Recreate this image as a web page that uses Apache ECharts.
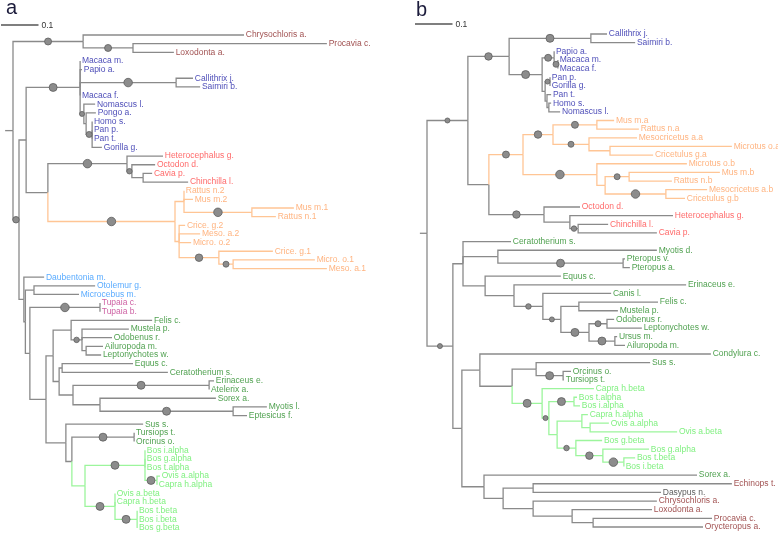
<!DOCTYPE html>
<html><head><meta charset="utf-8">
<script src="https://cdn.jsdelivr.net/npm/echarts@6/dist/echarts.min.js"></script>
<style>html,body{margin:0;padding:0;background:#fff}#c{width:778px;height:534px}</style>
</head><body><div id="c"></div>
<script>
// ---------- Colours ----------
const GREY = '#8a8a8a';
const MAROON = '#861f1f', BLUE = '#2020a6', RED = '#ff4545', ORANGE = '#ffa060', ORANGE_LINE = '#ffc595',
      LBLUE = '#2f96ff', MAGENTA = '#c03a8c', GREEN = '#248a24', LGREEN = '#62ec62', LGREEN_LINE = '#9cf59c', DARK = '#333333';

// ---------- Tree a : [node, parent, distance from root] ----------
const aBackbone = [['AFRO','rootA',0.187],['BOREO','rootA',0.016],['EUAR','BOREO',0.035],['P','BOREO',0.029],['P2','P',0.033],['Q','P2',0.045],['LAU','Q',0.088]];
const aAfro = [['Chrysochloris a.','AFRO',0.616],['PL','AFRO',0.320],['Procavia c.','PL',0.837],['Loxodonta a.','PL',0.429]];
const aPrimates = [['ANTH','EUAR',0.179],['Macaca m.','ANTH',0.179],['Papio a.','ANTH',0.184],['CS','ANTH',0.435],['Callithrix j.','CS',0.480],['Saimiri b.','CS',0.499],['Macaca f.','ANTH',0.179],['APE','ANTH',0.189],['Nomascus l.','APE',0.219],['PH','APE',0.195],['Pongo a.','PH',0.221],['HPG','PH',0.211],['Homo s.','HPG',0.211],['Pan p.','HPG',0.211],['Pan t.','HPG',0.211],['Gorilla g.','HPG',0.237]];
const aRodents = [['ROD','EUAR',0.093],['HYS','ROD',0.304],['Heterocephalus g.','HYS',0.400],['OCC','HYS',0.317],['Octodon d.','OCC',0.379],['CC','OCC',0.347],['Cavia p.','CC',0.371],['Chinchilla l.','CC',0.467],
 ['MUR','ROD',0.432],['MU','MUR',0.456],['Rattus n.2','MU',0.456],['Mus m.2','MU',0.480],['MR1','MU',0.637],['Mus m.1','MR1',0.749],['Rattus n.1','MR1',0.701],
 ['ML','MUR',0.443],['Crice. g.2','ML',0.459],['Meso. a.2','ML',0.499],['Micro. o.2','ML',0.475],['C1','ML',0.549],['Crice. g.1','C1',0.693],['MM1','C1',0.587],['Micro. o.1','MM1',0.805],['Meso. a.1','MM1',0.837]];
const aStrepTup = [['Daubentonia m.','P',0.083],['OM','P2',0.056],['Otolemur g.','OM',0.219],['Microcebus m.','OM',0.176],['TUP','Q',0.232],['Tupaia c.','TUP',0.232],['Tupaia b.','TUP',0.232]];
const aLaur = [['LA1','LAU',0.107],['CAR','LA1',0.155],['Felis c.','CAR',0.371],['CAN','CAR',0.184],['Mustela p.','CAN',0.309],['Odobenus r.','CAN',0.264],['AL','CAN',0.195],['Ailuropoda m.','AL',0.240],['Leptonychotes w.','AL',0.235],
 ['LA2','LA1',0.123],['EC','LA2',0.131],['Equus c.','EC',0.320],['Ceratotherium s.','EC',0.413],['LA3','LA2',0.160],['ER','LA3',0.523],['Erinaceus e.','ER',0.536],['Atelerix a.','ER',0.523],['SB','LA3',0.232],['Sorex a.','SB',0.541],['BAT','SB',0.587],['Myotis l.','BAT',0.677],['Eptesicus f.','BAT',0.624],
 ['CET','LAU',0.141],['Sus s.','CET',0.347],['CE2','CET',0.157],['TO','CE2',0.323],['Tursiops t.','TO',0.323],['Orcinus o.','TO',0.323]];
const aBovids = [['BOV','CE2',0.192],['ALP','BOV',0.352],['Bos i.alpha','ALP',0.352],['Bos g.alpha','ALP',0.352],['Bos t.alpha','ALP',0.352],['OCA','ALP',0.384],['Ovis a.alpha','OCA',0.392],['Capra h.alpha','OCA',0.384],
 ['BET','BOV',0.272],['Ovis a.beta','BET',0.272],['Capra h.beta','BET',0.272],['BB','BET',0.331],['Bos t.beta','BB',0.331],['Bos i.beta','BB',0.331],['Bos g.beta','BB',0.331]];
const aLeaves = ['Chrysochloris a.','Procavia c.','Loxodonta a.','Macaca m.','Papio a.','Callithrix j.','Saimiri b.','Macaca f.','Nomascus l.','Pongo a.','Homo s.','Pan p.','Pan t.','Gorilla g.',
 'Heterocephalus g.','Octodon d.','Cavia p.','Chinchilla l.','Rattus n.2','Mus m.2','Mus m.1','Rattus n.1','Crice. g.2','Meso. a.2','Micro. o.2','Crice. g.1','Micro. o.1','Meso. a.1',
 'Daubentonia m.','Otolemur g.','Microcebus m.','Tupaia c.','Tupaia b.','Felis c.','Mustela p.','Odobenus r.','Ailuropoda m.','Leptonychotes w.','Equus c.','Ceratotherium s.','Erinaceus e.','Atelerix a.','Sorex a.','Myotis l.','Eptesicus f.',
 'Sus s.','Tursiops t.','Orcinus o.','Bos i.alpha','Bos g.alpha','Bos t.alpha','Ovis a.alpha','Capra h.alpha','Ovis a.beta','Capra h.beta','Bos t.beta','Bos i.beta','Bos g.beta'];
const aSupport = [['AFRO',7],['PL',7],['BOREO',6.5],['ANTH',8],['CS',8.5],['APE',5],['HPG',6],['HYS',8.5],['OCC',5.5],['MUR',8.5],['MR1',8.5],['C1',7.5],['MM1',6],
 ['TUP',8.5],['CAN',5.5],['ER',8],['BAT',8],['TO',8],['ALP',8],['OCA',8],['BET',8],['BB',8]];
const aLabelClades = [['AFRO',MAROON],['ANTH',BLUE],['HYS',RED],['MUR',ORANGE],['Daubentonia m.',LBLUE],['OM',LBLUE],['TUP',MAGENTA],['LAU',GREEN],['BOV',LGREEN]];
const aEdgeClades = [['MUR',ORANGE_LINE],['BOV',LGREEN_LINE]];
const aRootEdge = 0.021;

// ---------- Tree b ----------
const bBackbone = [['E','rootB',0.109],['L','rootB',0.069]];
const bPrimates = [['PR','E',0.219],['CS','PR',0.437],['Callithrix j.','CS',0.480],['Saimiri b.','CS',0.555],['CT','PR',0.307],['OWM','CT',0.339],['Papio a.','OWM',0.339],['MM','OWM',0.349],['Macaca m.','MM',0.349],['Macaca f.','MM',0.349],
 ['APE','CT',0.315],['PG','APE',0.328],['Pan p.','PG',0.328],['Gorilla g.','PG',0.328],['Z','APE',0.320],['Pan t.','Z',0.331],['HN','Z',0.325],['Homo s.','HN',0.331],['Nomascus l.','HN',0.355]];
const bRodents = [['RO','E',0.165],['MURb','RO',0.256],['MA','MURb',0.336],['MRa','MA',0.453],['Mus m.a','MRa',0.499],['Rattus n.a','MRa',0.565],['MCa','MA',0.432],['Mesocricetus a.a','MCa',0.560],['MiCr','MCa',0.488],['Microtus o.a','MiCr',0.813],['Cricetulus g.a','MiCr',0.603],
 ['MB','MURb',0.453],['Microtus o.b','MB',0.693],['MB2','MB',0.475],['MRb','MB2',0.539],['Mus m.b','MRb',0.781],['Rattus n.b','MRb',0.653],['MCb','MB2',0.637],['Mesocricetus a.b','MCb',0.747],['Cricetulus g.b','MCb',0.688],
 ['HYSb','RO',0.312],['Octodon d.','HYSb',0.408],['CCH','HYSb',0.381],['Heterocephalus g.','CCH',0.656],['CC','CCH',0.403],['Chinchilla l.','CC',0.483],['Cavia p.','CC',0.613]];
const bLaur = [['L1','L',0.096],['Ceratotherium s.','L1',0.224],['CB','L1',0.189],['Myotis d.','CB',0.613],['PT','CB',0.523],['Pteropus v.','PT',0.528],['Pteropus a.','PT',0.541],
 ['FE','L1',0.155],['Equus c.','FE',0.357],['ECa','FE',0.232],['Erinaceus e.','ECa',0.691],['CAR','ECa',0.309],['Canis l.','CAR',0.491],['CA2','CAR',0.357],['FM','CA2',0.405],['Felis c.','FM',0.616],['Mustela p.','FM',0.509],
 ['ARC','CA2',0.432],['OL','ARC',0.480],['Odobenus r.','OL',0.499],['Leptonychotes w.','OL',0.573],['UA','ARC',0.501],['Ursus m.','UA',0.507],['Ailuropoda m.','UA',0.528],
 ['L2','L',0.093],['CS2','L2',0.141],['Condylura c.','CS2',0.757],['CET','CS2',0.227],['SO','CET',0.291],['Sus s.','SO',0.595],['TO','SO',0.363],['Orcinus o.','TO',0.384],['Tursiops t.','TO',0.365]];
const bBovids = [['BOVb','CET',0.307],['Capra h.beta','BOVb',0.445],['B2','BOVb',0.325],['BTI','B2',0.392],['Bos t.alpha','BTI',0.400],['Bos i.alpha','BTI',0.408],['B3','B2',0.347],['COC','B3',0.413],['Capra h.alpha','COC',0.429],['OO','COC',0.435],['Ovis a.alpha','OO',0.485],['Ovis a.beta','OO',0.667],
 ['B4','B3',0.397],['Bos g.beta','B4',0.467],['B5','B4',0.469],['Bos g.alpha','B5',0.592],['BTI2','B5',0.525],['Bos t.beta','BTI2',0.555],['Bos i.beta','BTI2',0.525]];
const bAfro = [['AF','L2',0.152],['Sorex a.','AF',0.720],['X1','AF',0.203],['ED','X1',0.283],['Echinops t.','ED',0.813],['Dasypus n.','ED',0.624],['AF2','X1',0.283],['Chrysochloris a.','AF2',0.613],['PLO','AF2',0.387],['Loxodonta a.','PLO',0.600],['PO','PLO',0.443],['Procavia c.','PO',0.760],['Orycteropus a.','PO',0.736]];
const bLeaves = ['Callithrix j.','Saimiri b.','Papio a.','Macaca m.','Macaca f.','Pan p.','Gorilla g.','Pan t.','Homo s.','Nomascus l.',
 'Mus m.a','Rattus n.a','Mesocricetus a.a','Microtus o.a','Cricetulus g.a','Microtus o.b','Mus m.b','Rattus n.b','Mesocricetus a.b','Cricetulus g.b',
 'Octodon d.','Heterocephalus g.','Chinchilla l.','Cavia p.','Ceratotherium s.','Myotis d.','Pteropus v.','Pteropus a.','Equus c.','Erinaceus e.','Canis l.','Felis c.','Mustela p.','Odobenus r.','Leptonychotes w.','Ursus m.','Ailuropoda m.',
 'Condylura c.','Sus s.','Orcinus o.','Tursiops t.','Capra h.beta','Bos t.alpha','Bos i.alpha','Capra h.alpha','Ovis a.alpha','Ovis a.beta','Bos g.beta','Bos g.alpha','Bos t.beta','Bos i.beta',
 'Sorex a.','Echinops t.','Dasypus n.','Chrysochloris a.','Loxodonta a.','Procavia c.','Orycteropus a.'];
const bSupport = [['E',5],['PR',7.5],['CS',8],['CT',8],['OWM',7],['MM',6],['PG',5],['MURb',7],['MA',7.5],['MRa',7],['MCa',6],['MB',8.5],['MRb',6],['MCb',8.5],['HYSb',7.5],['CC',5.5],
 ['L',5],['PT',8],['CAR',5.5],['CA2',5],['ARC',8],['OL',6],['UA',8],['TO',8],['BOVb',8],['B2',5],['BTI',8],['B4',5.5],['B5',7.5],['BTI2',8.5]];
const bLabelClades = [['PR',BLUE],['MURb',ORANGE],['HYSb',RED],['L',GREEN],['BOVb',LGREEN],['Echinops t.',MAROON],['AF2',MAROON],['Dasypus n.',DARK]];
const bEdgeClades = [['MURb',ORANGE_LINE],['BOVb',LGREEN_LINE]];
const bRootEdge = 0.019;

const SCALE_LEN = 0.1;
const FONT = '"Liberation Sans", Arial, sans-serif';

// ---------- Build ----------
function build(edges, leaves, root) {
  const nodes = {};
  nodes[root] = {name: root, x: 0, parent: null, children: []};
  edges.forEach(e => { nodes[e[0]] = {name: e[0], x: e[2], parent: e[1], children: []}; });
  edges.forEach(e => nodes[e[1]].children.push(nodes[e[0]]));
  leaves.forEach((n, i) => { nodes[n].y = i; });
  (function setY(nd) {
    if (!nd.children.length) return nd.y;
    const ys = nd.children.map(setY);
    nd.y = (Math.min(...ys) + Math.max(...ys)) / 2;
    return nd.y;
  })(nodes[root]);
  return nodes;
}
function subtree(nodes, name, out) {
  out.push(name);
  nodes[name].children.forEach(c => subtree(nodes, c.name, out));
  return out;
}
function cladeMap(nodes, list) {
  const m = {};
  list.forEach(([c, col]) => subtree(nodes, c, []).forEach(n => { m[n] = col; }));
  return m;
}

function treeSeries(edges, leaves, root, rootEdge, support, labelClades, edgeClades, gi) {
  const nodes = build(edges, leaves, root);
  const eCol = cladeMap(nodes, edgeClades);
  const lCol = cladeMap(nodes, labelClades);
  const r = nodes[root];
  const grey = [{value: [-rootEdge, r.y, 0, r.y], itemStyle: {color: GREY}}];
  const coloured = [];
  Object.values(nodes).forEach(nd => {
    if (nd.parent === null) return;
    const p = nodes[nd.parent];
    const item = {value: [p.x, p.y, nd.x, nd.y], itemStyle: {color: eCol[nd.name] || GREY}};
    (eCol[nd.name] ? coloured : grey).push(item);
  });
  const circles = support.map(([n, d]) => {
    const nd = nodes[n], p = nodes[nd.parent];
    return [(p.x + nd.x) / 2, nd.y, d];
  });
  const labels = leaves.map(n => ({name: n, value: [nodes[n].x, nodes[n].y], label: {color: lCol[n] || DARK}}));
  return [
    {type: 'custom', coordinateSystem: 'cartesian2d', xAxisIndex: gi, yAxisIndex: gi, silent: true,
     encode: {x: [0, 2], y: [1, 3]}, data: grey.concat(coloured), z: 2,
     renderItem: (params, api) => {
       const a = api.coord([api.value(0), api.value(1)]);
       const b = api.coord([api.value(0), api.value(3)]);
       const c = api.coord([api.value(2), api.value(3)]);
       return {type: 'polyline', shape: {points: [a, b, c]}, style: {stroke: api.visual('color'), lineWidth: 1.3, fill: null}};
     }},
    {type: 'scatter', xAxisIndex: gi, yAxisIndex: gi, silent: true, z: 4, data: circles,
     symbolSize: v => v[2], itemStyle: {color: '#8c8c8c', borderColor: '#5e5e5e', borderWidth: 0.8, opacity: 1}},
    {type: 'scatter', xAxisIndex: gi, yAxisIndex: gi, silent: true, z: 5, data: labels, symbolSize: 0.5,
     itemStyle: {color: 'rgba(0,0,0,0)'},
     label: {show: true, position: 'right', distance: 1.5, formatter: '{b}', fontSize: 8.5, fontFamily: FONT}}
  ];
}

const chart = echarts.init(document.getElementById('c'), null, {renderer: 'canvas'});
const GRID_W = 350, UNIT = 375;
const aEdges = [].concat(aBackbone, aAfro, aPrimates, aRodents, aStrepTup, aLaur, aBovids);
const bEdges = [].concat(bBackbone, bPrimates, bRodents, bLaur, bBovids, bAfro);
chart.setOption({
  animation: false,
  backgroundColor: '#ffffff',
  grid: [
    {left: 13, top: 35, width: GRID_W, height: 493},
    {left: 427, top: 34, width: GRID_W, height: 493}
  ],
  xAxis: [
    {type: 'value', gridIndex: 0, min: 0, max: GRID_W / UNIT, show: false},
    {type: 'value', gridIndex: 1, min: 0, max: GRID_W / UNIT, show: false}
  ],
  yAxis: [
    {type: 'value', gridIndex: 0, min: 0, max: aLeaves.length - 1, inverse: true, show: false},
    {type: 'value', gridIndex: 1, min: 0, max: bLeaves.length - 1, inverse: true, show: false}
  ],
  series: [].concat(
    treeSeries(aEdges, aLeaves, 'rootA', aRootEdge, aSupport, aLabelClades, aEdgeClades, 0),
    treeSeries(bEdges, bLeaves, 'rootB', bRootEdge, bSupport, bLabelClades, bEdgeClades, 1)
  )
});

// scale bars & panel letters
const lenA = chart.convertToPixel({xAxisIndex: 0}, SCALE_LEN) - chart.convertToPixel({xAxisIndex: 0}, 0);
const lenB = chart.convertToPixel({xAxisIndex: 1}, SCALE_LEN) - chart.convertToPixel({xAxisIndex: 1}, 0);
function scaleBar(x, y, len) {
  return [
    {type: 'line', shape: {x1: x, y1: y, x2: x + len, y2: y}, style: {stroke: '#555', lineWidth: 1.5}, silent: true},
    {type: 'text', x: x + len + 3, y: y + 1, style: {text: String(SCALE_LEN), font: '8.5px ' + FONT, fill: '#333', verticalAlign: 'middle'}, silent: true}
  ];
}
chart.setOption({
  graphic: [].concat(
    scaleBar(1, 25, lenA),
    scaleBar(415, 24, lenB),
    [{type: 'text', x: 6, y: -2, style: {text: 'a', font: '20px ' + FONT, fill: '#1c1c3c', verticalAlign: 'top'}, silent: true},
     {type: 'text', x: 416, y: 0, style: {text: 'b', font: '20px ' + FONT, fill: '#1c1c3c', verticalAlign: 'top'}, silent: true}]
  )
});
</script></body></html>
